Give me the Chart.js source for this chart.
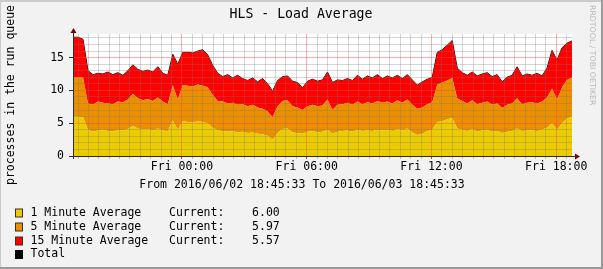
<!DOCTYPE html>
<html>
<head>
<meta charset="utf-8">
<script src="https://cdn.jsdelivr.net/npm/chart.js@4/dist/chart.umd.min.js"></script>
<style>
  html, body { margin: 0; padding: 0; background: #f2f2f2; }
  canvas { display: block; }
</style>
</head>
<body>
<canvas id="load" width="603" height="269"></canvas>
<script>
// load averages sampled every 0.24 h, from 2016/06/02 18:45:33
const oneMin = [6.0,6.0,5.9,4.0,3.7,3.9,4.0,3.8,3.7,4.0, 3.9,4.1,4.6,4.2,4.0,4.1,3.9,4.2,3.9,3.8,
  5.4,4.0,5.3,5.2,5.1,5.3,5.2,5.0,4.3,3.9, 3.8,3.7,3.8,3.6,3.7,3.5,3.6,3.4,3.3,3.1,
  2.5,3.5,4.1,4.2,3.6,3.5,3.4,3.7,3.8,3.6, 3.7,4.0,3.4,3.7,3.8,3.9,3.7,4.0,3.8,3.9,
  3.8,4.0,3.9,4.0,3.8,4.1,3.9,4.2,3.6,3.2, 3.4,3.8,4.0,5.2,5.3,5.6,5.8,4.2,4.0,3.8,
  4.1,3.7,3.9,4.0,3.7,3.8,3.5,3.7,3.8,4.2, 3.8,3.9,3.9,3.8,4.0,4.3,5.0,4.0,5.0,5.7, 6.00]
const fiveMin = [6.0,6.0,6.1,4.0,4.1,4.4,4.1,4.2,4.2,4.3, 4.3,4.5,4.9,4.6,4.5,4.6,4.5,4.7,4.4,4.1,
  5.4,4.6,5.5,5.5,5.5,5.6,5.5,5.5,5.0,4.5, 4.5,4.3,4.3,4.2,4.2,4.1,4.2,4.0,3.9,3.7,
  3.4,4.1,4.3,4.3,4.0,3.9,3.6,3.9,4.0,4.0, 4.0,4.6,3.6,4.1,4.1,4.2,4.1,4.3,4.1,4.3,
  4.2,4.4,4.2,4.3,4.2,4.4,4.2,4.4,4.2,4.0, 4.0,4.1,4.2,5.7,5.9,5.9,6.1,4.6,4.4,4.2,
  4.4,4.2,4.2,4.3,4.1,4.2,3.8,4.1,4.2,4.6, 4.1,4.2,4.3,4.2,4.3,4.6,5.3,4.6,5.5,5.9, 5.97]
const fifteenMin = [6.1,6.1,5.8,5.0,4.6,4.3,4.4,4.8,4.5,4.4, 4.1,4.4,4.4,4.4,4.4,4.4,4.4,4.7,4.3,4.4,
  4.7,5.4,5.0,5.1,5.1,5.1,5.5,4.9,4.5,4.2, 3.8,4.4,3.8,4.5,3.9,3.9,4.1,3.9,4.6,4.2,
  4.0,3.9,3.7,3.7,3.8,3.8,3.4,3.8,3.9,3.8, 3.9,4.2,4.2,3.8,3.6,3.7,3.7,4.0,3.8,4.0,
  3.9,4.0,3.7,3.9,3.9,3.8,3.7,3.8,3.8,3.6, 3.9,3.8,3.8,4.9,5.0,5.4,5.7,4.6,4.3,4.3,
  4.3,4.3,4.4,4.4,4.3,4.4,4.0,4.2,4.3,4.8, 4.3,4.4,4.1,4.6,3.9,4.5,5.8,6.0,6.0,5.6, 5.57]

const seriesNames = ['1 Minute Average', '5 Minute Average', '15 Minute Average']
const seriesColors = ['#EACC00', '#EA8F00', '#FF0000']
const tickLabels = ['Fri 00:00', 'Fri 06:00', 'Fri 12:00', 'Fri 18:00']
const tickHours = [5.2408, 11.2408, 17.2408, 23.2408]   // hours after start
const yLabels = [0, 5, 10, 15]

const step = 0.24
const hours = oneMin.map((v, i) => i * step)
const total = oneMin.map((v, i) => v + fiveMin[i] + fifteenMin[i])

const pts = arr => arr.map((v, i) => ({x: hours[i], y: v}))
const mono = '"DejaVu Sans Mono", monospace'

// half hour grid, first at 19:00
const gridHours = []
for (let h = 0.2408; h < 24; h += 0.5) gridHours.push(+h.toFixed(4))
const isMajorX = v => tickHours.some(t => Math.abs(t - v) < 0.01)

const rrdDecor = {
  id: 'rrdDecor',
  beforeDraw(chart) {
    const c = chart.ctx, a = chart.chartArea
    c.save()
    c.fillStyle = '#f2f2f2'
    c.fillRect(0, 0, chart.width, chart.height)
    c.fillStyle = '#ffffff'
    c.fillRect(a.left, a.top, a.right - a.left, a.bottom - a.top)
    c.restore()
  },
  afterDraw(chart) {
    const c = chart.ctx, a = chart.chartArea
    const W = chart.width, H = chart.height
    c.save()
    // axes
    c.strokeStyle = '#2c2c2c'
    c.lineWidth = 1
    c.beginPath()
    c.moveTo(a.left - 3, a.bottom + 0.5); c.lineTo(a.right + 4, a.bottom + 0.5)
    c.moveTo(a.left + 0.5, a.bottom + 3); c.lineTo(a.left + 0.5, a.top - 1)
    c.stroke()
    c.fillStyle = '#7f0000'
    c.beginPath()
    c.moveTo(a.right + 3, a.bottom - 2.5); c.lineTo(a.right + 8, a.bottom + 0.5); c.lineTo(a.right + 3, a.bottom + 3.5)
    c.fill()
    c.beginPath()
    c.moveTo(a.left - 2.5, a.top - 1); c.lineTo(a.left + 0.5, a.top - 6); c.lineTo(a.left + 3.5, a.top - 1)
    c.fill()

    // title, subtitle
    c.fillStyle = '#000'
    c.textBaseline = 'middle'
    c.textAlign = 'center'
    c.font = '13.2px ' + mono
    c.fillText('HLS - Load Average', 301, 15)
    c.font = '11.5px ' + mono
    c.fillText('From 2016/06/02 18:45:33 To 2016/06/03 18:45:33', 302, 185)

    // vertical label
    c.save()
    c.translate(11, (a.top + a.bottom) / 2)
    c.rotate(-Math.PI / 2)
    c.fillText('processes in the run queue', 0, 0)
    c.restore()

    // watermark
    c.save()
    c.translate(592, 5)
    c.rotate(Math.PI / 2)
    c.textAlign = 'left'
    c.fillStyle = '#b8b8b8'
    c.font = '7.8px "DejaVu Sans", sans-serif'
    c.fillText('RRDTOOL / TOBI OETIKER', 0, 0)
    c.restore()

    // legend
    const series = [oneMin, fiveMin, fifteenMin]
    const rows = [213, 227, 241, 254.5]
    c.textAlign = 'left'
    c.font = '11.5px ' + mono
    seriesNames.forEach((name, i) => {
      const cur = series[i][series[i].length - 1].toFixed(2)
      c.fillStyle = seriesColors[i]
      c.fillRect(15.5, rows[i] - 4, 7, 8)
      c.strokeStyle = '#333'
      c.strokeRect(15.5, rows[i] - 4, 7, 8)
      c.fillStyle = '#000'
      c.fillText(name.padEnd(20) + 'Current:'.padEnd(12) + cur, 30.5, rows[i])
    })
    c.fillStyle = '#000'
    c.fillRect(15, rows[3] - 4.5, 8, 9)
    c.fillText('Total', 30.5, rows[3])

    // frame shade
    c.fillStyle = '#cbcbcb'
    c.fillRect(0, 0, W, 2)
    c.fillRect(0, 0, 1, H)
    c.fillStyle = '#9a9a9a'
    c.fillRect(0, H - 2, W, 2)
    c.fillRect(W - 2, 0, 2, H)
    c.restore()
  }
}

new Chart('load', {
  type: 'line',
  data: {
    datasets: [{
      label: seriesNames[0],
      data: pts(oneMin),
      backgroundColor: seriesColors[0],
      fill: 'origin',
      borderWidth: 0
    }, {
      label: seriesNames[1],
      data: pts(fiveMin),
      backgroundColor: seriesColors[1],
      fill: '-1',
      borderWidth: 0
    }, {
      label: seriesNames[2],
      data: pts(fifteenMin),
      backgroundColor: seriesColors[2],
      fill: '-1',
      borderWidth: 0
    }, {
      label: 'Total',
      data: pts(total),
      stack: 'total',
      borderColor: '#000',
      borderWidth: 1,
      fill: false
    }]
  },
  options: {
    responsive: false,
    animation: false,
    devicePixelRatio: 1,
    layout: {padding: {left: 50, right: 31, top: 34, bottom: 93}},
    elements: {point: {radius: 0}, line: {tension: 0}},
    plugins: {legend: {display: false}, tooltip: {enabled: false}},
    scales: {
      x: {
        type: 'linear',
        min: 0,
        max: 24,
        afterBuildTicks: s => { s.ticks = gridHours.map(v => ({value: v})) },
        afterFit: s => { s.height = 20; s.paddingLeft = 0; s.paddingRight = 0 },
        border: {display: false},
        grid: {
          z: 1,
          lineWidth: 1,
          tickLength: 3,
          borderDash: [1, 1],
          color: ctx => isMajorX(ctx.tick.value) ? 'rgba(255,70,70,0.45)' : 'rgba(120,120,120,0.3)',
          tickColor: ctx => isMajorX(ctx.tick.value) ? '#a05050' : '#bbbbbb'
        },
        ticks: {
          autoSkip: false,
          maxRotation: 0,
          padding: 1,
          color: '#000',
          font: {family: 'DejaVu Sans Mono', size: 11.5},
          callback: v => {
            const k = tickHours.findIndex(t => Math.abs(t - v) < 0.01)
            return k < 0 ? '' : tickLabels[k]
          }
        }
      },
      y: {
        stacked: true,
        min: 0,
        max: 18.6,
        afterFit: s => { s.width = 23; s.paddingTop = 0; s.paddingBottom = 0 },
        border: {display: false},
        grid: {
          z: 1,
          lineWidth: 1,
          tickLength: 4,
          borderDash: [1, 1],
          color: ctx => (ctx.tick.value % 5 === 0 && ctx.tick.value > 0) ? 'rgba(255,70,70,0.45)' : 'rgba(120,120,120,0.3)',
          tickColor: ctx => yLabels.includes(ctx.tick.value) ? '#2c2c2c' : 'rgba(0,0,0,0)'
        },
        ticks: {
          stepSize: 1,
          includeBounds: false,
          autoSkip: false,
          padding: 5,
          color: '#000',
          font: {family: 'DejaVu Sans Mono', size: 11.5},
          callback: v => yLabels.includes(v) ? String(v) : ''
        }
      }
    }
  },
  plugins: [rrdDecor]
})
</script>
</body>
</html>
